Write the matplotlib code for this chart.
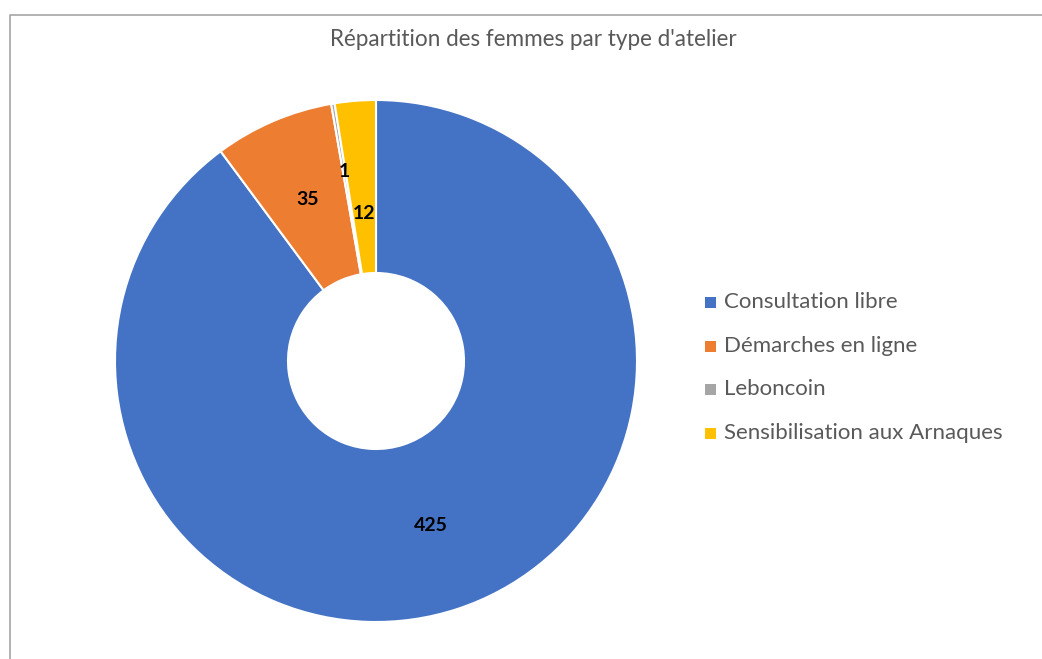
import matplotlib
matplotlib.use("Agg")
import matplotlib.pyplot as plt
from matplotlib.patches import Rectangle
import numpy as np

# ---- data ----
title = "Répartition des femmes par type d'atelier"
categories = ["Consultation libre", "Démarches en ligne", "Leboncoin", "Sensibilisation aux Arnaques"]
values = [425, 35, 1, 12]

# ---- styles ----
colors = ["#4472C4", "#ED7D31", "#A5A5A5", "#FFC000"]
label_radius = [174.5, 174.5, 191, 146.5]
text_color = "#595959"
FONT = ["Lato", "DejaVu Sans"]

W, H = 1042, 659
fig = plt.figure(figsize=(W / 100, H / 100), dpi=100)
ax = fig.add_axes([0, 0, 1, 1])

cx, cy = 376, H - 361
R_out, R_in = 261, 88

wedges, _ = ax.pie(values, colors=colors, startangle=90, counterclock=False,
                   radius=R_out, center=(cx, cy),
                   wedgeprops=dict(width=R_out - R_in, edgecolor="white", linewidth=1.5))

for w, v, r in zip(wedges, values, label_radius):
    ang = np.deg2rad((w.theta1 + w.theta2) / 2)
    ax.text(cx + r * np.cos(ang), cy + r * np.sin(ang) + 1, str(v), ha="center", va="center",
            fontsize=14, fontweight="bold", color="black", family=FONT)

ax.set_xlim(0, W)
ax.set_ylim(0, H)
ax.set_aspect("auto")
ax.axis("off")

# chart border (left and top visible)
ax.plot([9.5, 9.5, W + 5], [-5, H - 14.5, H - 14.5], color="#A6A6A6", lw=1.2, clip_on=False)

renderer = fig.canvas.get_renderer()

def fit_text(x, y, s, target_w, ha, **kw):
    t = ax.text(x, y, s, ha=ha, va="center", fontsize=14, **kw)
    wpx = t.get_window_extent(renderer).width
    t.set_fontsize(14 * target_w / wpx)
    return t

fit_text(533, H - 40, title, 408, "center", color=text_color, family=FONT)

# legend
ys = [302, 346, 389, 433]
tmp = ax.text(0, 0, categories[3], fontsize=14, family=FONT)
lw = tmp.get_window_extent(renderer).width
tmp.remove()
lfs = 14 * 279 / lw
for cat, col, y in zip(categories, colors, ys):
    ax.add_patch(Rectangle((705, H - y - 6), 11, 11, facecolor=col, edgecolor="none"))
    ax.text(724, H - y, cat, ha="left", va="center", fontsize=lfs, color=text_color, family=FONT)

fig.savefig("out.png", dpi=100, facecolor="white")
